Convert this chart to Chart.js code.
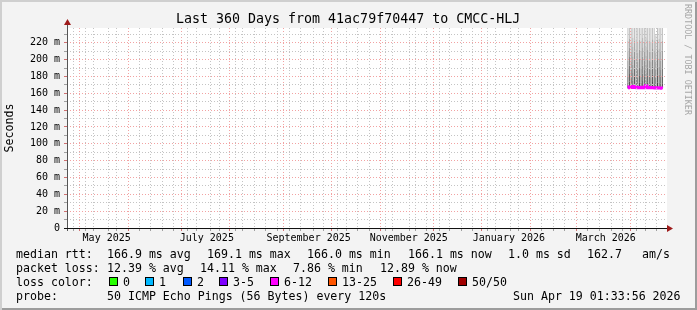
<!DOCTYPE html>
<html>
<head>
<meta charset="utf-8">
<title>Last 360 Days from 41ac79f70447 to CMCC-HLJ</title>
<script src="https://cdn.jsdelivr.net/npm/chart.js@4.4.1/dist/chart.umd.min.js"></script>
<style>
  body { margin: 0; background: #fff; }
  #frame {
    position: relative; width: 697px; height: 310px; overflow: hidden;
    background: #f3f3f3;
    box-shadow: inset 2px 2px 0 #cfcfcf, inset -2px -2px 0 #9c9c9c;
  }
  #chart { position: absolute; left: 0; top: 0; }
  .t {
    position: absolute; white-space: pre; color: #000;
    font-family: "DejaVu Sans Mono", monospace; font-size: 11.6px; line-height: 14px;
  }
  .sw { position: absolute; width: 9px; height: 9px; box-sizing: border-box; border: 1px solid #000; }
  #title { font-size: 13.3px; line-height: 16px; }
  #mark {
    position: absolute; left: 683px; top: 4px; writing-mode: vertical-rl;
    font-family: "DejaVu Sans Mono", monospace; font-size: 8.4px; line-height: 10px;
    color: #a6a6a6; white-space: pre;
  }
</style>
</head>
<body>
<div id="frame">
  <canvas id="chart" width="697" height="310"></canvas>
  <div id="title" class="t" style="left:176px; top:11px;">Last 360 Days from 41ac79f70447 to CMCC-HLJ</div>
  <div id="mark">RRDTOOL / TOBI OETIKER</div>
  <div id="legend"></div>
</div>
<script>
// --- data ---
const days = ['2026-03-29', '2026-03-30', '2026-03-31', '2026-04-01', '2026-04-02', '2026-04-03',
  '2026-04-04', '2026-04-05', '2026-04-06', '2026-04-07', '2026-04-08', '2026-04-09', '2026-04-10',
  '2026-04-11', '2026-04-12', '2026-04-13', '2026-04-14', '2026-04-15', '2026-04-16', '2026-04-17',
  '2026-04-18', '2026-04-19'];

// median rtt in ms
const medianRtt = [166.5, 167.4, 166.8, 167.9, 166.7, 167.3, 166.6, 166.9, 166.5, 167.2, 166.6,
  169.0, 166.8, 166.5, 166.7, 166.4, 166.6, 166.3, 166.5, 166.3, 166.2, 166.1];

// smoke: sorted ping levels (ms), bottom to top
const smoke0 = [165.8, 166.0, 165.9, 166.2, 165.9, 166.1, 165.8, 166.0, 165.7, 166.1, 165.9,
  166.4, 166.0, 165.8, 165.9, 165.7, 165.9, 165.6, 165.8, 165.7, 165.6, 165.6];
const smoke1 = [172.5, 174.0, 171.5, 175.0, 172.0, 173.5, 171.0, 173.0, 172.5, 174.5, 171.5,
  175.5, 173.0, 172.0, 171.5, 173.5, 172.0, 171.0, 172.5, 173.0, 171.5, 172.0];
const smoke2 = [180.0, 183.0, 179.0, 184.0, 180.5, 182.0, 178.5, 181.5, 180.0, 183.5, 179.5,
  184.5, 181.0, 180.0, 179.0, 182.0, 180.5, 178.5, 181.0, 182.0, 179.5, 180.0];
const smoke3 = [189.0, 193.0, 188.0, 194.0, 190.0, 191.5, 187.5, 191.0, 189.5, 193.0, 188.5,
  194.5, 190.5, 189.0, 188.0, 191.5, 190.0, 187.5, 190.5, 191.5, 188.5, 189.5];
const smoke4 = [199.0, 203.0, 198.0, 204.0, 200.0, 201.5, 197.5, 201.0, 199.5, 203.5, 198.5,
  204.5, 200.5, 199.0, 198.0, 201.5, 200.0, 197.5, 200.5, 201.5, 198.5, 199.5];
const smoke5 = [210.0, 214.0, 209.0, 215.0, 211.0, 212.5, 208.5, 212.0, 210.5, 214.5, 209.5,
  215.5, 211.5, 210.0, 209.0, 212.5, 211.0, 208.5, 211.5, 212.5, 209.5, 210.5];
const smoke6 = [222.0, 225.0, 221.0, 226.0, 222.5, 224.0, 220.5, 223.5, 222.0, 225.5, 221.5,
  226.5, 223.0, 222.0, 221.0, 224.0, 223.0, 221.0, 223.5, 224.5, 221.5, 222.5];
const smoke7 = [250, 250, 250, 250, 250, 250, 250, 250, 250, 250, 250,
  250, 250, 250, 250, 250, 250, 229, 250, 250, 250, 250];
const smokeLevels = [smoke0, smoke1, smoke2, smoke3, smoke4, smoke5, smoke6, smoke7];
const smokeColors = ['#464646', '#585858', '#6c6c6c', '#808080', '#949494', '#a8a8a8', '#c0c0c0'];

// axis labels
const yTickValues = [0, 20, 40, 60, 80, 100, 120, 140, 160, 180, 200, 220];
const yTickLabels = ['0', '20 m', '40 m', '60 m', '80 m', '100 m', '120 m', '140 m', '160 m',
  '180 m', '200 m', '220 m'];
const xLabelDates = ['2025-05-15', '2025-07-15', '2025-09-15', '2025-11-15', '2026-01-15', '2026-03-15'];
const xLabels = ['May 2025', 'July 2025', 'September 2025', 'November 2025', 'January 2026', 'March 2026'];

// legend text
const rttStats = ['166.9 ms avg', '169.1 ms max', '166.0 ms min', '166.1 ms now', '1.0 ms sd', '162.7', 'am/s'];
const lossStats = ['12.39 % avg', '14.11 % max', '7.86 % min', '12.89 % now'];
const lossLabels = ['0', '1', '2', '3-5', '6-12', '13-25', '26-49', '50/50'];
const lossColors = ['#26ff00', '#00b8ff', '#0059ff', '#7e00ff', '#ff00ff', '#ff5500', '#ff0000', '#a10000'];
const probeText = '50 ICMP Echo Pings (56 Bytes) every 120s';
const stampText = 'Sun Apr 19 01:33:56 2026';

// --- layout (pixels) ---
const rttX = [107, 207, 307, 408, 508, 587, 642];
const lossX = [107, 200, 293, 380];
const swatchX = [109, 145, 183, 219, 270, 328, 393, 458];

const legend = document.getElementById('legend');
function put(text, x, y) {
  const d = document.createElement('div');
  d.className = 't';
  d.style.left = x + 'px';
  d.style.top = y + 'px';
  d.textContent = text;
  legend.appendChild(d);
}
put('median rtt:', 16, 247);
rttStats.forEach((s, i) => put(s, rttX[i], 247));
put('packet loss:', 16, 261);
lossStats.forEach((s, i) => put(s, lossX[i], 261));
put('loss color:', 16, 275);
lossLabels.forEach((s, i) => {
  const sw = document.createElement('div');
  sw.className = 'sw';
  sw.style.left = swatchX[i] + 'px';
  sw.style.top = '277px';
  sw.style.background = lossColors[i];
  legend.appendChild(sw);
  put(s, swatchX[i] + 14, 275);
});
put('probe:', 16, 289);
put(probeText, 107, 289);
put(stampText, 513, 289);

// --- time axis ---
const DAY = 86400000;
const xMin = Date.UTC(2025, 3, 24, 1, 33, 56);
const xMax = Date.UTC(2026, 3, 19, 1, 33, 56);
const toTime = d => Date.parse(d + 'T00:00:00Z');

// grid: first of each month (major), sundays (minor), labels mid-month
const xKind = new Map();
const xLabelAt = new Map();
for (let m = 4; m <= 15; m++) xKind.set(Date.UTC(2025, m, 1), 'major');
for (let t = Date.UTC(2025, 3, 27); t < xMax; t += 7 * DAY) {
  if (!xKind.has(t)) xKind.set(t, 'minor');
}
xLabelDates.forEach((d, i) => {
  const t = toTime(d) + DAY / 2;
  xKind.set(t, 'label');
  xLabelAt.set(t, xLabels[i]);
});
const xTicks = [...xKind.keys()].sort((a, b) => a - b);

const yKind = new Map();
const yLabelAt = new Map();
for (let v = 0; v <= 230; v += 10) yKind.set(v, v % 20 === 0 ? 'major' : 'minor');
yTickValues.forEach((v, i) => yLabelAt.set(v, yTickLabels[i]));

const MAJOR = '#f2a2a2';
const MINOR = '#c4c4c4';
const NONE = 'rgba(0,0,0,0)';
const gridColor = kind => kind === 'major' ? MAJOR : kind === 'minor' ? MINOR : NONE;
const tickColor = kind => kind === 'major' ? '#d07070' : kind === 'minor' ? '#a0a0a0' : NONE;
const mono = 'DejaVu Sans Mono';

// --- datasets ---
const smokeSets = smokeColors.map((color, b) => ({
  type: 'bar',
  data: days.map((d, i) => ({ x: toTime(d), y: [smokeLevels[b][i], smokeLevels[b + 1][i]] })),
  backgroundColor: color,
  borderWidth: 0,
  grouped: false,
  barPercentage: 1.25,
  categoryPercentage: 1,
  order: 2
}));

const medianSet = {
  type: 'line',
  data: days.map((d, i) => ({ x: toTime(d), y: medianRtt[i] })),
  borderColor: lossColors[4],
  borderWidth: 3,
  pointRadius: 0,
  stepped: 'middle',
  order: 1
};

// white plot area, axes and arrows like rrdtool
const rrdFrame = {
  id: 'rrdFrame',
  beforeDraw(chart) {
    const { ctx, chartArea: a } = chart;
    ctx.save();
    ctx.fillStyle = '#ffffff';
    ctx.fillRect(a.left, a.top, a.right - a.left, a.bottom - a.top);
    ctx.restore();
  },
  afterDraw(chart) {
    const { ctx, chartArea: a } = chart;
    const left = Math.round(a.left), bottom = Math.round(a.bottom), right = Math.round(a.right);
    ctx.save();
    ctx.fillStyle = '#555555';
    ctx.fillRect(left, a.top - 5, 1, bottom - a.top + 8);
    ctx.fillStyle = '#111111';
    ctx.fillRect(left - 3, bottom, right - left + 6, 1);
    ctx.fillStyle = '#9e1b1b';
    ctx.beginPath();
    ctx.moveTo(left + 0.5, a.top - 9);
    ctx.lineTo(left - 3, a.top - 3);
    ctx.lineTo(left + 4, a.top - 3);
    ctx.closePath();
    ctx.fill();
    ctx.beginPath();
    ctx.moveTo(right + 6, bottom + 0.5);
    ctx.lineTo(right, bottom - 3);
    ctx.lineTo(right, bottom + 4);
    ctx.closePath();
    ctx.fill();
    ctx.restore();
  }
};

new Chart(document.getElementById('chart'), {
  data: { datasets: [medianSet, ...smokeSets] },
  options: {
    responsive: false,
    maintainAspectRatio: false,
    animation: false,
    devicePixelRatio: 1,
    layout: { padding: { top: 28, right: 30, left: 0, bottom: 0 } },
    plugins: { legend: { display: false }, tooltip: { enabled: false } },
    scales: {
      x: {
        type: 'linear',
        min: xMin,
        max: xMax,
        afterBuildTicks: s => { s.ticks = xTicks.map(v => ({ value: v })); },
        afterFit: s => { s.height = 82; },
        ticks: {
          autoSkip: false, maxRotation: 0, minRotation: 0, padding: 1,
          color: '#000', font: { family: mono, size: 10 },
          callback: v => xLabelAt.get(v) || ''
        },
        grid: {
          z: 1,
          color: c => gridColor(xKind.get(c.tick && c.tick.value)),
          tickColor: c => tickColor(xKind.get(c.tick && c.tick.value)),
          tickLength: 3
        },
        border: { display: false, dash: [1, 2] }
      },
      y: {
        type: 'linear',
        min: 0,
        max: 237.5,
        afterBuildTicks: s => { s.ticks = [...yKind.keys()].map(v => ({ value: v })); },
        afterFit: s => { s.width = 67; },
        ticks: {
          autoSkip: false, padding: 4,
          color: '#000', font: { family: mono, size: 10 },
          callback: v => yLabelAt.has(v) ? yLabelAt.get(v) : ''
        },
        grid: {
          z: 1,
          color: c => gridColor(yKind.get(c.tick && c.tick.value)),
          tickColor: c => tickColor(yKind.get(c.tick && c.tick.value)),
          tickLength: 3
        },
        border: { display: false, dash: [1, 2] },
        title: {
          display: true, text: 'Seconds', color: '#000',
          font: { family: mono, size: 11.6 }, padding: { top: 3, bottom: 0 }
        }
      }
    }
  },
  plugins: [rrdFrame]
});
</script>
</body>
</html>
